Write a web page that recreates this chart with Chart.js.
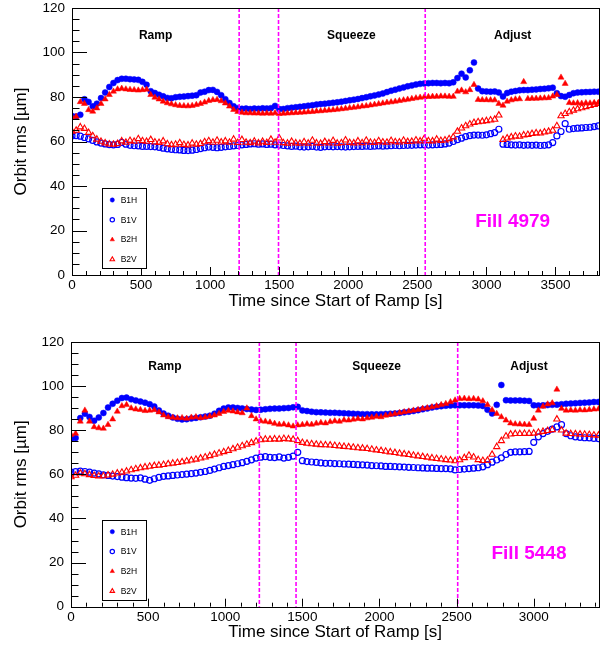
<!DOCTYPE html>
<html>
<head>
<meta charset="utf-8">
<title>Orbit rms during ramp, squeeze and adjust</title>
<script src="https://cdn.jsdelivr.net/npm/chart.js@4.4.1/dist/chart.umd.min.js"></script>
<style>
  html, body { margin: 0; padding: 0; background: #fff; }
  #wrap { position: relative; width: 607px; height: 655px; }
  canvas { position: absolute; left: 0; }
  #fill4979 { top: 0; }
  #fill5448 { top: 327px; }
</style>
</head>
<body>
<div id="wrap">
  <canvas id="fill4979" width="607" height="327"></canvas>
  <canvas id="fill5448" width="607" height="328"></canvas>
</div>
<script>
// ---- Fill 4979: orbit rms [um] sampled every 30 s from start of ramp ----
const timeA = [
  0, 30, 60, 90, 120, 150, 180, 210, 240, 270,
  300, 330, 360, 390, 420, 450, 480, 510, 540, 570,
  600, 630, 660, 690, 720, 750, 780, 810, 840, 870,
  900, 930, 960, 990, 1020, 1050, 1080, 1110, 1140, 1170,
  1200, 1230, 1260, 1290, 1320, 1350, 1380, 1410, 1440, 1470,
  1500, 1530, 1560, 1590, 1620, 1650, 1680, 1710, 1740, 1770,
  1800, 1830, 1860, 1890, 1920, 1950, 1980, 2010, 2040, 2070,
  2100, 2130, 2160, 2190, 2220, 2250, 2280, 2310, 2340, 2370,
  2400, 2430, 2460, 2490, 2520, 2550, 2580, 2610, 2640, 2670,
  2700, 2730, 2760, 2790, 2820, 2850, 2880, 2910, 2940, 2970,
  3000, 3030, 3060, 3090, 3120, 3150, 3180, 3210, 3240, 3270,
  3300, 3330, 3360, 3390, 3420, 3450, 3480, 3510, 3540, 3570,
  3600, 3630, 3660, 3690, 3720, 3750, 3780, 3810
];
const b1hA = [
  71.5, 71.2, 72.0, 79.0, 77.8, 75.8, 77.0, 79.5, 82.0, 84.5,
  86.3, 87.6, 88.2, 88.2, 88.0, 87.9, 87.7, 86.8, 85.5, 82.6,
  81.8, 81.0, 80.3, 79.6, 79.4, 79.9, 80.1, 80.2, 80.4, 80.6,
  80.8, 82.0, 82.4, 83.1, 83.2, 82.3, 80.8, 79.0, 77.3, 75.8,
  75.0, 74.7, 74.8, 74.6, 74.8, 74.7, 74.9, 74.8, 75.0, 76.0,
  74.6, 74.6, 75.0, 75.2, 75.4, 75.6, 75.8, 76.1, 76.3, 76.6,
  76.8, 77.0, 77.2, 77.4, 77.6, 77.9, 78.2, 78.5, 78.8, 79.1,
  79.5, 79.9, 80.3, 80.7, 81.1, 81.6, 82.2, 82.8, 83.3, 83.8,
  84.3, 84.8, 85.2, 85.6, 85.9, 86.1, 86.2, 86.3, 86.3, 86.2,
  86.3, 86.2, 86.6, 88.5, 90.5, 88.8, 92.0, 95.5, 83.8, 82.6,
  82.5, 82.4, 82.5, 82.0, 80.2, 81.8, 82.4, 82.7, 83.0, 83.1,
  83.1, 83.3, 83.4, 83.6, 83.7, 83.9, 84.2, 81.7, 80.4, 80.1,
  80.9, 81.7, 82.0, 82.1, 82.2, 82.3, 82.4, 82.4
];
const b1vA = [
  62.5, 62.6, 62.4, 61.8, 61.2, 60.5, 59.8, 59.3, 58.9, 58.6,
  58.5, 58.7, 59.6, 58.8, 58.3, 58.1, 58.0, 57.8, 57.8, 57.7,
  57.6, 57.4, 57.0, 56.7, 56.5, 56.3, 56.2, 56.0, 55.9, 56.1,
  56.4, 56.8, 57.2, 57.5, 57.4, 57.2, 57.4, 57.6, 57.8, 58.0,
  58.2, 58.5, 58.7, 58.9, 59.0, 58.8, 58.9, 58.7, 58.8, 58.5,
  58.4, 58.2, 58.0, 57.8, 57.9, 57.6, 57.5, 57.6, 57.8, 57.5,
  57.4, 57.6, 57.7, 57.6, 57.7, 57.6, 57.5, 57.6, 57.7, 57.8,
  57.8, 57.9, 57.8, 57.9, 58.0, 57.9, 58.0, 58.1, 58.2, 58.1,
  58.2, 58.3, 58.3, 58.4, 58.5, 58.5, 58.4, 58.5, 58.6, 58.7,
  58.9, 59.3, 60.0, 60.8, 61.5, 62.2, 62.6, 62.9, 62.9, 62.8,
  63.0, 63.5, 64.0, 65.5, 58.8, 58.7, 58.5, 58.4, 58.5, 58.3,
  58.4, 58.3, 58.4, 58.2, 58.3, 58.5, 59.5, 62.5, 64.5, 68.0,
  65.5, 65.8, 66.0, 66.1, 66.3, 66.4, 66.7, 67.0
];
const b2hA = [
  71.0, 71.2, 77.8, 77.0, 74.2, 73.5, 75.0, 77.0, 79.0, 81.0,
  82.5, 83.5, 83.8, 83.5, 83.3, 83.2, 83.0, 83.2, 83.4, 81.0,
  79.8, 79.0, 78.0, 77.3, 76.8, 76.4, 76.1, 76.0, 75.9, 76.1,
  76.5, 77.0, 77.6, 78.3, 78.7, 78.8, 78.2, 77.2, 75.8, 74.3,
  73.4, 73.0, 72.8, 72.8, 72.7, 72.7, 72.6, 72.7, 72.6, 72.8,
  72.5, 72.6, 72.7, 72.8, 72.9, 73.0, 73.1, 73.3, 73.4, 73.6,
  73.7, 73.9, 74.0, 74.2, 74.4, 74.6, 74.8, 75.1, 75.3, 75.5,
  75.8, 76.0, 76.3, 76.6, 76.9, 77.2, 77.5, 77.7, 78.0, 78.3,
  78.6, 78.9, 79.2, 79.5, 79.8, 80.0, 80.1, 80.2, 80.2, 80.3,
  80.3, 80.2, 80.2, 82.5, 83.0, 82.2, 83.2, 85.5, 78.8, 78.7,
  78.7, 78.6, 78.6, 77.0, 76.2, 78.0, 78.6, 79.0, 79.1, 86.8,
  79.2, 79.3, 79.3, 79.4, 79.5, 79.6, 80.3, 81.0, 88.8, 86.0,
  77.4, 77.2, 77.3, 77.1, 77.3, 77.2, 77.4, 77.3
];
const b2vA = [
  64.5, 65.0, 66.5, 65.8, 64.0, 62.5, 61.0, 60.0, 59.3, 58.8,
  58.7, 59.0, 60.2, 59.6, 60.4, 60.0, 61.2, 60.3, 60.0, 60.8,
  59.7, 59.5, 60.2, 58.9, 58.5, 58.7, 59.4, 58.6, 58.4, 59.2,
  58.7, 59.0, 59.8, 60.3, 59.6, 60.5, 59.7, 60.2, 59.6, 61.0,
  59.5, 60.8, 59.6, 59.4, 60.1, 59.3, 60.0, 59.5, 60.9, 59.6,
  61.5, 59.4, 59.2, 60.0, 59.3, 59.1, 59.8, 59.2, 60.5, 59.3,
  59.1, 59.9, 59.3, 60.4, 59.2, 59.4, 60.6, 59.5, 59.3, 60.2,
  59.4, 60.5, 59.6, 59.5, 60.3, 59.7, 59.6, 60.4, 59.8, 59.7,
  60.5, 59.9, 60.0, 60.6, 60.2, 61.3, 60.3, 60.2, 61.0, 60.4,
  60.6, 61.2, 62.0, 64.5, 66.0, 67.0, 67.8, 68.5, 68.8, 69.0,
  69.3, 69.6, 69.9, 71.8, 60.8, 61.5, 62.0, 62.4, 62.3, 62.9,
  63.1, 63.5, 63.8, 63.7, 64.2, 64.5, 65.0, 67.0, 71.5, 72.5,
  73.3, 74.0, 74.6, 75.1, 75.6, 76.1, 76.6, 77.0
];
const phaseLinesA = [1210, 1495, 2557];
const phaseLabelXA = [605, 2023, 3190];
const timeTicksA = [0, 500, 1000, 1500, 2000, 2500, 3000, 3500];

// ---- Fill 5448 ----
const timeB = [
  0, 30, 60, 90, 120, 150, 180, 210, 240, 270,
  300, 330, 360, 390, 420, 450, 480, 510, 540, 570,
  600, 630, 660, 690, 720, 750, 780, 810, 840, 870,
  900, 930, 960, 990, 1020, 1050, 1080, 1110, 1140, 1170,
  1200, 1230, 1260, 1290, 1320, 1350, 1380, 1410, 1440, 1470,
  1500, 1530, 1560, 1590, 1620, 1650, 1680, 1710, 1740, 1770,
  1800, 1830, 1860, 1890, 1920, 1950, 1980, 2010, 2040, 2070,
  2100, 2130, 2160, 2190, 2220, 2250, 2280, 2310, 2340, 2370,
  2400, 2430, 2460, 2490, 2520, 2550, 2580, 2610, 2640, 2670,
  2700, 2730, 2760, 2790, 2820, 2850, 2880, 2910, 2940, 2970,
  3000, 3030, 3060, 3090, 3120, 3150, 3180, 3210, 3240, 3270,
  3300, 3330, 3360, 3390, 3420
];
const b1hB = [
  76.0, 76.5, 85.5, 87.5, 86.0, 84.3, 85.8, 87.8, 90.3, 92.0,
  93.4, 94.6, 94.8, 94.0, 93.5, 93.0, 92.5, 91.8, 90.8, 89.0,
  87.6, 86.6, 85.8, 85.2, 84.9, 85.0, 85.3, 85.6, 85.9, 86.2,
  86.6, 87.5, 88.8, 89.8, 90.3, 90.3, 90.1, 89.9, 89.6, 89.4,
  89.2, 89.3, 89.5, 89.7, 89.8, 89.8, 90.0, 90.1, 90.4, 90.6,
  89.0, 88.7, 88.4, 88.2, 88.1, 88.0, 87.9, 87.9, 87.8, 87.7,
  87.6, 87.5, 87.4, 87.3, 87.3, 87.2, 87.2, 87.3, 87.4, 87.5,
  87.6, 87.8, 88.1, 88.4, 88.7, 89.1, 89.5, 89.9, 90.3, 90.6,
  90.9, 91.1, 91.2, 91.3, 91.3, 91.3, 91.3, 91.3, 91.2, 91.0,
  89.3, 87.6, 91.5, 100.5, 93.6, 93.5, 93.5, 93.5, 93.4, 93.3,
  91.3, 91.2, 91.3, 91.4, 91.5, 91.6, 91.8, 92.0, 92.1, 92.2,
  92.4, 92.5, 92.6, 92.8, 92.8
];
const b1vB = [
  61.0, 61.2, 61.5, 61.3, 61.0, 60.6, 60.2, 59.8, 59.5, 59.2,
  59.0, 58.7, 58.5, 58.3, 58.2, 58.4, 57.8, 57.3, 58.0, 58.6,
  59.1, 59.3, 59.5, 59.7, 59.9, 60.1, 60.3, 60.6, 60.9, 61.3,
  61.8, 62.4, 63.0, 63.6, 64.0, 64.4, 64.8, 65.3, 65.9, 66.6,
  67.4, 67.8, 68.0, 67.7, 67.6, 67.9, 67.4, 67.7, 68.3, 70.0,
  66.2, 65.8, 65.6, 65.4, 65.2, 65.0, 65.0, 64.9, 64.8, 64.7,
  64.6, 64.5, 64.4, 64.3, 64.2, 64.0, 63.9, 63.8, 63.6, 63.6,
  63.5, 63.4, 63.3, 63.2, 63.1, 63.0, 62.9, 62.8, 62.8, 62.7,
  62.6, 62.6, 62.5, 62.0, 62.2, 62.4, 62.6, 62.8, 63.0, 63.4,
  64.4, 65.5, 66.5, 67.5, 69.0, 70.0, 70.2, 70.2, 70.3, 70.4,
  74.5, 77.0, 78.5, 79.5, 80.5, 81.5, 82.5, 78.5, 77.5, 77.0,
  76.8, 76.6, 76.5, 76.3, 76.2
];
const b2hB = [
  78.0, 78.5, 84.0, 89.0, 84.0, 81.5, 81.0, 80.8, 82.5, 85.0,
  88.5, 91.0, 91.5, 90.0, 89.5, 89.3, 88.8, 89.0, 89.2, 88.2,
  86.8, 86.0, 85.8, 85.5, 85.6, 85.3, 85.8, 86.0, 85.6, 85.9,
  86.3, 86.8, 87.5, 88.4, 88.9, 88.6, 88.2, 87.8, 90.0, 86.5,
  85.0, 84.2, 84.0, 83.6, 83.0, 82.6, 82.7, 82.3, 81.8, 82.3,
  82.5, 82.8, 82.6, 83.1, 83.4, 83.2, 83.8, 84.2, 84.0, 84.6,
  84.5, 84.9, 85.2, 85.0, 85.5, 85.8, 86.2, 86.0, 86.7, 87.1,
  87.5, 87.9, 88.3, 88.6, 89.0, 89.3, 89.8, 90.1, 90.5, 91.0,
  91.5, 92.0, 92.8, 93.6, 94.3, 94.4, 94.2, 94.3, 94.0, 93.2,
  91.5, 89.2, 87.5, 86.0, 84.5, 83.2, 82.8, 82.7, 82.6, 82.5,
  85.3, 89.0, 90.8, 91.8, 92.3, 98.5, 89.8, 89.0, 89.1, 89.0,
  89.2, 89.1, 89.3, 89.5, 89.6
];
const b2vB = [
  58.8, 59.5, 60.5, 60.2, 59.8, 59.4, 59.2, 59.3, 59.6, 60.0,
  60.5, 60.9, 61.4, 62.0, 62.5, 62.9, 63.3, 63.6, 63.9, 64.1,
  64.4, 64.7, 65.0, 65.3, 65.6, 66.0, 66.4, 66.8, 67.3, 67.8,
  68.4, 69.0, 69.6, 70.2, 70.8, 71.5, 72.2, 72.9, 73.6, 74.3,
  75.0, 75.6, 75.9, 75.8, 76.0, 75.9, 76.2, 76.0, 75.8, 75.2,
  74.4, 74.0, 73.8, 73.6, 73.4, 73.3, 73.2, 73.0, 72.8, 72.6,
  72.4, 72.2, 72.0, 71.8, 71.6, 71.3, 71.0, 70.7, 70.4, 70.1,
  69.8, 69.5, 69.2, 68.9, 68.6, 68.3, 68.0, 67.7, 67.4, 67.1,
  66.9, 66.6, 66.4, 66.1, 66.5, 67.5, 68.6, 67.8, 66.6, 66.2,
  66.3, 69.0, 72.5, 75.2, 77.3, 78.2, 78.4, 78.4, 78.5, 78.5,
  78.6, 79.0, 79.4, 79.8, 80.2, 85.0, 80.0, 78.6, 78.4, 78.3,
  78.2, 78.1, 78.0, 77.8, 77.7
];
const phaseLinesB = [1221, 1459, 2507];
const phaseLabelXB = [609, 1981, 2969];
const timeTicksB = [0, 500, 1000, 1500, 2000, 2500, 3000];

const rmsTicks = [0, 20, 40, 60, 80, 100, 120];
const phaseNames = ['Ramp', 'Squeeze', 'Adjust'];
const seriesNames = ['B1H', 'B1V', 'B2H', 'B2V'];

const FONT = '"Liberation Sans", Arial, Helvetica, sans-serif';
Chart.defaults.font.family = FONT;
Chart.defaults.color = '#000';

const BLUE = '#0000ff', RED = '#ff0000', MAGENTA = '#ff00ff';

// marker look per series, in legend order
const markerStyles = [
  { pointStyle: 'circle',   pointRadius: 3.0, pointBackgroundColor: BLUE, pointBorderColor: BLUE, pointBorderWidth: 0.5, order: 4 },
  { pointStyle: 'circle',   pointRadius: 3.0, pointBackgroundColor: 'rgba(0,0,0,0)', pointBorderColor: BLUE, pointBorderWidth: 1.2, order: 3 },
  { pointStyle: 'triangle', pointRadius: 3.5, pointBackgroundColor: RED, pointBorderColor: RED, pointBorderWidth: 0.5, order: 2 },
  { pointStyle: 'triangle', pointRadius: 3.6, pointBackgroundColor: 'rgba(0,0,0,0)', pointBorderColor: RED, pointBorderWidth: 1.1, order: 1 }
];

function makeDatasets(times, seriesList) {
  return seriesList.map((values, i) => Object.assign({
    label: seriesNames[i],
    data: times.map((t, k) => ({ x: t, y: values[k] })),
    showLine: false,
    pointHoverRadius: 0
  }, markerStyles[i]));
}

// ROOT-like frame: inward ticks, phase markers, boxed legend and fill tag
const rootFrame = {
  id: 'rootFrame',
  afterDatasetsDraw(chart, args, opts) {
    const ctx = chart.ctx;
    const a = chart.chartArea;
    const xs = chart.scales.x, ys = chart.scales.y;
    ctx.save();

    // phase boundaries
    ctx.strokeStyle = MAGENTA;
    ctx.lineWidth = 1.6;
    ctx.setLineDash([4, 2]);
    opts.phaseLines.forEach(t => {
      const px = xs.getPixelForValue(t);
      ctx.beginPath();
      ctx.moveTo(px, a.top);
      ctx.lineTo(px, a.bottom);
      ctx.stroke();
    });
    ctx.setLineDash([]);

    // phase names
    ctx.fillStyle = '#000';
    ctx.font = 'bold 12px ' + FONT;
    ctx.textAlign = 'center';
    ctx.textBaseline = 'middle';
    phaseNames.forEach((name, i) => {
      ctx.fillText(name, xs.getPixelForValue(opts.phaseX[i]), ys.getPixelForValue(opts.phaseY));
    });

    // fill number
    ctx.fillStyle = MAGENTA;
    ctx.font = 'bold 19px ' + FONT;
    ctx.fillText(opts.fillText, xs.getPixelForValue(opts.fillX), ys.getPixelForValue(opts.fillY));

    // frame
    ctx.strokeStyle = '#000';
    ctx.lineWidth = 1;
    ctx.strokeRect(Math.round(a.left) + 0.5, Math.round(a.top) + 0.5,
                   Math.round(a.right) - Math.round(a.left), Math.round(a.bottom) - Math.round(a.top));

    // x ticks every 100 s, long ones at the labels
    ctx.beginPath();
    for (let t = 0; t <= xs.max; t += 100) {
      const px = Math.round(xs.getPixelForValue(t)) + 0.5;
      const len = t % 500 === 0 ? 8 : 4;
      ctx.moveTo(px, a.bottom);
      ctx.lineTo(px, a.bottom - len);
    }
    // y ticks every 5 um
    for (let v = 0; v <= ys.max; v += 5) {
      const py = Math.round(ys.getPixelForValue(v)) + 0.5;
      const len = v % 20 === 0 ? 15 : 7.5;
      ctx.moveTo(a.left, py);
      ctx.lineTo(a.left + len, py);
    }
    ctx.stroke();

    // legend box
    const lx = a.left + opts.legendDX, ly = a.top + opts.legendDY;
    ctx.fillStyle = '#fff';
    ctx.fillRect(lx, ly, 44.5, 80);
    ctx.strokeRect(Math.round(lx) + 0.5, Math.round(ly) + 0.5, 44, 80);
    ctx.font = '8.5px ' + FONT;
    ctx.textAlign = 'left';
    seriesNames.forEach((name, i) => {
      const st = markerStyles[i];
      const yy = ly + 11.7 + i * 19.8;
      ctx.fillStyle = st.pointBackgroundColor;
      ctx.strokeStyle = st.pointBorderColor;
      ctx.lineWidth = st.pointBorderWidth;
      Chart.helpers.drawPoint(ctx, {
        pointStyle: st.pointStyle, radius: st.pointRadius * 0.72,
        borderWidth: st.pointBorderWidth, rotation: 0
      }, lx + 10, yy);
      ctx.fillStyle = '#000';
      ctx.fillText(name, lx + 18.4, yy + 0.5);
    });

    ctx.restore();
  }
};

function makeChart(canvasId, cfg) {
  return new Chart(document.getElementById(canvasId), {
    type: 'scatter',
    data: { datasets: makeDatasets(cfg.times, cfg.series) },
    options: {
      responsive: false,
      animation: false,
      events: [],
      layout: { padding: { left: 0, top: cfg.padTop, right: cfg.padRight, bottom: 0 } },
      plugins: {
        legend: { display: false },
        tooltip: { enabled: false },
        rootFrame: cfg.frame
      },
      scales: {
        x: {
          type: 'linear',
          min: 0,
          max: cfg.xMax,
          afterBuildTicks: s => { s.ticks = cfg.xTicks.map(v => ({ value: v })); },
          afterFit: s => {
            s.height = cfg.xAxisHeight;
            s.paddingLeft = 0;
            s.paddingRight = 0;
          },
          grid: { display: false, drawTicks: false },
          border: { display: false },
          ticks: {
            autoSkip: false, maxRotation: 0, padding: 2, color: '#000',
            font: { size: 13.5 }, callback: v => String(v)
          },
          title: {
            display: true, text: 'Time since Start of Ramp [s]', color: '#000',
            font: { size: 17 }, padding: { top: 0, bottom: cfg.xTitlePad }
          }
        },
        y: {
          type: 'linear',
          min: 0,
          max: 120,
          afterBuildTicks: s => { s.ticks = rmsTicks.map(v => ({ value: v })); },
          afterFit: s => {
            s.width = cfg.yAxisWidth;
            s.paddingTop = 0;
            s.paddingBottom = 0;
          },
          grid: { display: false, drawTicks: false },
          border: { display: false },
          ticks: { autoSkip: false, padding: 7, color: '#000', font: { size: 13.5 }, callback: v => String(v) },
          title: {
            display: true, text: 'Orbit rms [\u00b5m]', color: '#000',
            font: { size: 17 }, padding: { top: 11, bottom: 0 }
          }
        }
      }
    },
    plugins: [rootFrame]
  });
}

makeChart('fill4979', {
  times: timeA,
  series: [b1hA, b1vA, b2hA, b2vA],
  xMax: 3815,
  xTicks: timeTicksA,
  padTop: 8, padRight: 8,
  xAxisHeight: 52, yAxisWidth: 72, xTitlePad: 15.8,
  frame: {
    phaseLines: phaseLinesA, phaseX: phaseLabelXA, phaseY: 107.4,
    fillText: 'Fill 4979', fillX: 3190, fillY: 23.8,
    legendDX: 30.3, legendDY: 180.3
  }
});

makeChart('fill5448', {
  times: timeB,
  series: [b1hB, b1vB, b2hB, b2vB],
  xMax: 3425,
  xTicks: timeTicksB,
  padTop: 15, padRight: 7.7,
  xAxisHeight: 48.3, yAxisWidth: 71, xTitlePad: 12.3,
  frame: {
    phaseLines: phaseLinesB, phaseX: phaseLabelXB, phaseY: 108.7,
    fillText: 'Fill 5448', fillX: 2969, fillY: 24.2,
    legendDX: 31.3, legendDY: 178
  }
});
</script>
</body>
</html>
